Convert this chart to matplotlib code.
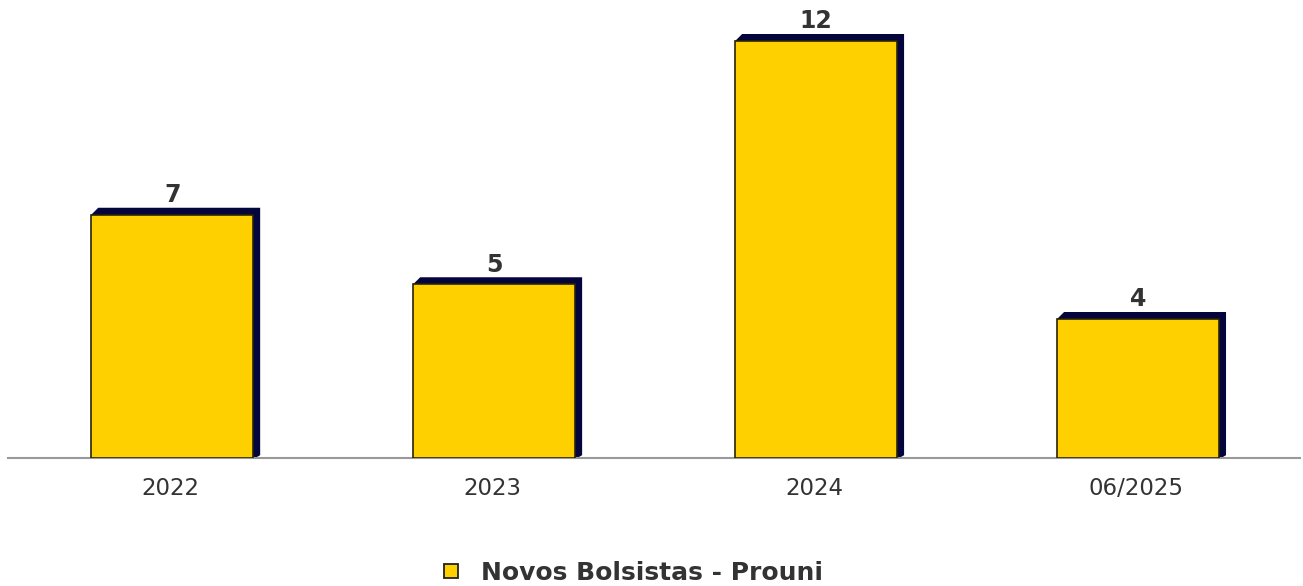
import matplotlib.pyplot as plt
import numpy as np
from matplotlib.lines import Line2D

FONT = "DejaVu Sans"
plt.rcParams["font.family"] = [FONT]

categories = ["2022", "2023", "2024", "06/2025"]
values = [7, 5, 12, 4]
series_name = "Novos Bolsistas - Prouni"

face = "#FFD000"
shadow = "#05053d"

fig = plt.figure(figsize=(13.03, 5.86), dpi=100)
ax = fig.add_axes([8 / 1303, 1 - 458 / 586, 1292 / 1303, 458 / 586])

x = np.arange(len(categories))
w = 0.503
ax.set_xlim(-0.51, 3.503)
ax.set_ylim(0, 13.18)

# shadow offset of ~7 px right and up, in data units
dx = 7 / 322
dy = 7 / 34.75
for xi, v in zip(x, values):
    x0, x1 = xi - w / 2, xi + w / 2
    ax.fill([x0, x0 + dx, x1 + dx, x1 + dx, x1 + dx * 0.3, x1],
            [v, v + dy, v + dy, dy * 0.4, 0, 0],
            color=shadow, zorder=2, lw=0)

ax.bar(x, values, width=w, color=face, edgecolor="#2a2400", linewidth=1.2, zorder=3)

for xi, v in zip(x, values):
    ax.text(xi, v + dy + 0.02, str(v), ha="center", va="bottom", family=FONT,
            fontsize=17, fontweight="bold", color="#333333")

for s in ["top", "right", "left"]:
    ax.spines[s].set_visible(False)
ax.spines["bottom"].set_color("#999999")
ax.spines["bottom"].set_linewidth(1.5)
ax.set_yticks([])
ax.set_xticks(x - 0.006)
ax.set_xticklabels(categories, fontsize=16.5, color="#333333", family=FONT)
ax.tick_params(axis="x", length=0, pad=14)

handle = Line2D([], [], marker="s", linestyle="", markersize=10,
                markerfacecolor=face, markeredgecolor="#222222", markeredgewidth=1.3)
fig.legend([handle], [series_name], loc="center", bbox_to_anchor=(0.4837, 1 - 573 / 586),
           frameon=False, prop={"family": FONT, "weight": "bold", "size": 18},
           labelcolor="#333333", handlelength=1.0, handletextpad=0.7)

fig.savefig("out.png", dpi=100)
